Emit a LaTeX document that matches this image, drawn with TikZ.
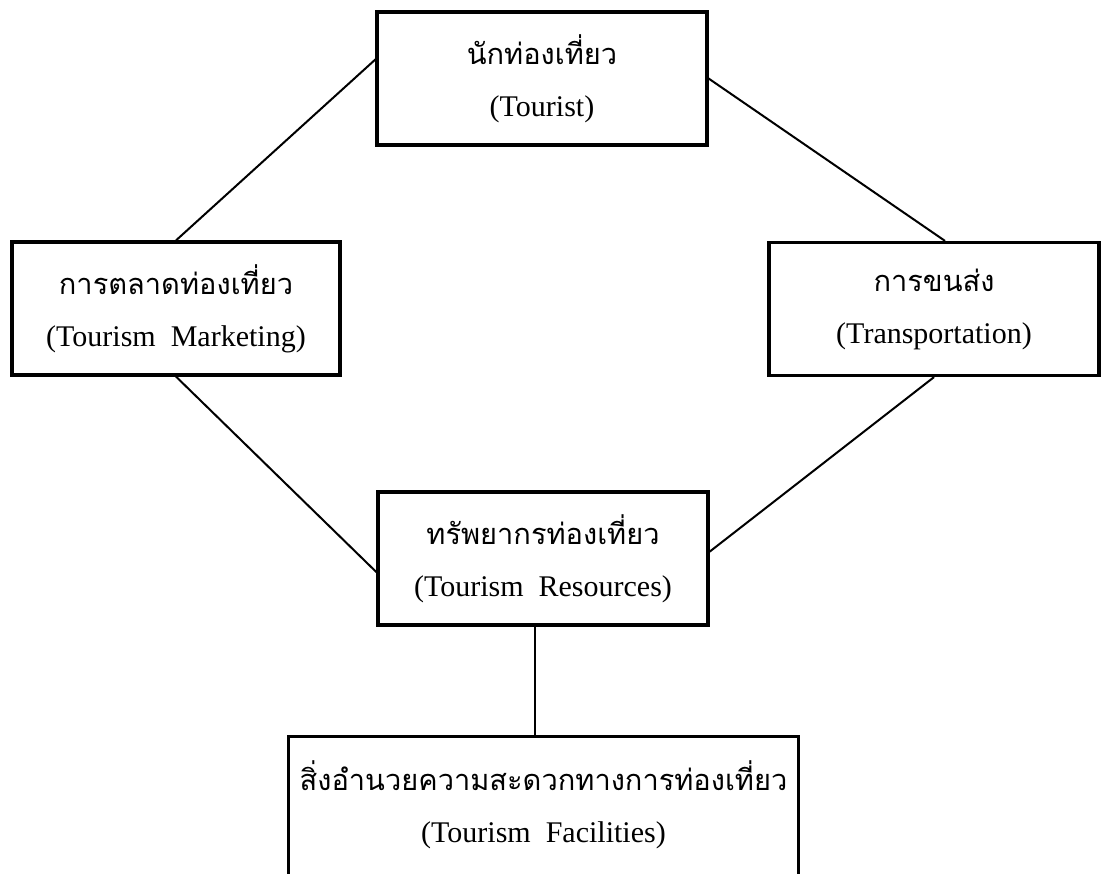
\documentclass[tikz,border=0pt]{standalone}
\usepackage{fontspec}
\setmainfont{Liberation Serif}
\newfontfamily\thaifont[Script=Thai]{Loma}
\usetikzlibrary{positioning,calc}
\newcommand{\thtext}[1]{{\thaifont\fontsize{14.5}{17}\selectfont #1}}
\newcommand{\twoline}[2]{\thtext{#1}\\[9pt]#2}
\tikzset{
    box/.style={
        draw,
        line width=1.6pt,
        align=center,
        inner sep=0pt,
        minimum width=165pt,
        minimum height=66.5pt,
        font=\fontsize{15}{17}\selectfont
    },
    link/.style={
        line width=1pt
    }
}

\begin{document}
\begin{tikzpicture}[x=0.5pt, y=-0.5pt]
    \useasboundingbox[fill=white] (0,0) rectangle (1101,873);
    \clip (0,0) rectangle (1101,873);

    % the boxes
    \node[box] (tourist) at (542,78.5)
        {\twoline{นักท่องเที่ยว}{(Tourist)}};
    \node[box, minimum width=164pt] (marketing) at (176,308.5)
        {\twoline{การตลาดท่องเที่ยว}{(Tourism\ \ Marketing)}};
    \node[box] (transport) at (934,309)
        {\twoline{การขนส่ง}{(Transportation)}};
    \node[box] (resources) at (543,558.5)
        {\twoline{ทรัพยากรท่องเที่ยว}{(Tourism\ \ Resources)}};
    % bottom box runs off the page
    \node[box, draw=none, minimum width=253.5pt] (facilities) at (543.5,804.5)
        {\twoline{สิ่งอำนวยความสะดวกทางการท่องเที่ยว}{(Tourism\ \ Facilities)}};
    \draw[line width=1.6pt] (facilities.north west) rectangle ([yshift=-30pt]facilities.south east);

    % the links
    \draw[link] ($(tourist.north west)!0.36!(tourist.south west)$) -- (marketing.north);
    \draw[link] (tourist.east) -- ([xshift=5.5pt]transport.north);
    \draw[link] (marketing.south) -- ($(resources.north west)!0.6!(resources.south west)$);
    \draw[link] (transport.south) -- ($(resources.north east)!0.45!(resources.south east)$);
    \draw[link] ([xshift=-4pt]resources.south) -- ([xshift=-4pt]resources.south |- facilities.north);
\end{tikzpicture}
\end{document}
